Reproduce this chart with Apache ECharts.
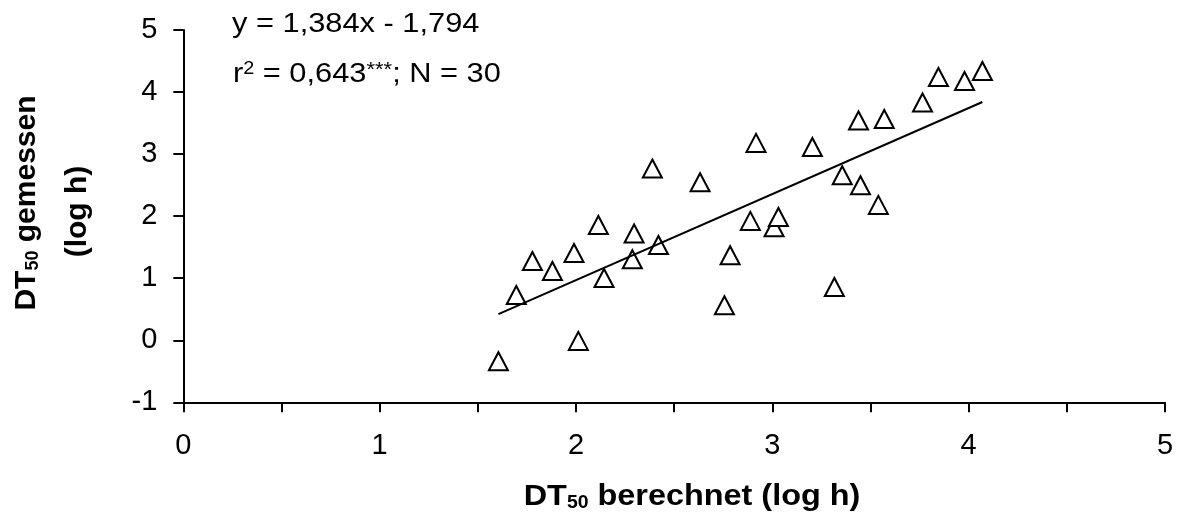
<!DOCTYPE html>
<html>
<head>
<meta charset="utf-8">
<script src="https://cdn.jsdelivr.net/npm/echarts@6/dist/echarts.min.js"></script>
<style>
html,body{margin:0;padding:0;background:#fff;}
#chart{width:1177px;height:513px;}
</style>
</head>
<body>
<div id="chart"></div>
<script>
// DT50 berechnet (log h) — x values
const xBerechnet = [1.605,1.696,1.778,1.880,1.990,2.012,2.114,2.143,2.287,2.296,2.389,2.420,2.632,2.756,2.785,2.888,2.917,3.009,3.031,3.204,3.316,3.356,3.439,3.449,3.540,3.570,3.765,3.846,3.979,4.070];
// DT50 gemessen (log h) — y values
const yGemessen = [-0.338,0.730,1.278,1.117,1.407,-0.011,1.858,1.004,1.305,1.720,2.767,1.536,2.546,0.564,1.370,1.923,3.180,1.821,1.987,3.115,0.859,2.659,3.541,2.498,2.181,3.566,3.831,4.243,4.179,4.340];
// regression line endpoints
const trendX = [1.605, 4.070];
const trendY = [0.42, 3.84];
// axis ticks
const xTicks = [0,1,2,3,4,5];
const yTicks = [-1,0,1,2,3,4,5];
// texts
const eqLine1 = 'y = 1,384x - 1,794';
const xTitleMain = ['DT','50',' berechnet (log h)'];
const yTitle1 = ['DT','50',' gemessen'];
const yTitle2 = '(log h)';

const FONT = '"Liberation Sans", Arial, sans-serif';

const scatterData = xBerechnet.map((x,i)=>[x, yGemessen[i]]);
const trendData = trendX.map((x,i)=>[x, trendY[i]]);

const chart = echarts.init(document.getElementById('chart'), null, {renderer:'canvas'});
const axisLineStyle = {color:'#000', width:2};
chart.setOption({
  animation:false,
  backgroundColor:'#fff',
  grid:{left:183.3, right:12, top:30, bottom:110.7, containLabel:false, outerBoundsMode:'none'},
  xAxis:{
    type:'value', min:xTicks[0], max:xTicks[xTicks.length-1], interval:1,
    axisLine:{show:true, onZero:false, lineStyle:axisLineStyle},
    axisTick:{show:true, length:10, inside:false, lineStyle:axisLineStyle},
    minorTick:{show:true, splitNumber:2, length:10, lineStyle:axisLineStyle},
    splitLine:{show:false},
    axisLabel:{fontFamily:FONT, fontSize:29, color:'#000', margin:29}
  },
  yAxis:{
    type:'value', min:yTicks[0], max:yTicks[yTicks.length-1], interval:1,
    axisLine:{show:true, onZero:false, lineStyle:axisLineStyle},
    axisTick:{show:true, length:10, inside:false, lineStyle:axisLineStyle},
    splitLine:{show:false},
    axisLabel:{fontFamily:FONT, fontSize:29, color:'#000', margin:26}
  },
  series:[
    {
      type:'scatter', data:scatterData, symbol:'triangle', symbolSize:[19,18],
      itemStyle:{color:'#fff', borderColor:'#000', borderWidth:2, opacity:1},
      emphasis:{disabled:true}, silent:true
    },
    {
      type:'line', data:trendData, showSymbol:false, symbol:'none',
      lineStyle:{color:'#000', width:2}, silent:true
    }
  ],
  graphic:[
    {type:'text', x:232, y:24.5, scaleX:1.1, silent:true,
     style:{text:eqLine1, fontFamily:FONT, fontSize:28, fill:'#000', align:'left', verticalAlign:'middle'}},
    {type:'text', x:233, y:74, scaleX:1.1, silent:true,
     style:{
       text:'{m|r}{s|2}{m| = 0,643}{a|***}{m|; N = 30}',
       fill:'#000', align:'left', verticalAlign:'middle',
       rich:{
         m:{fontFamily:FONT, fontSize:28, lineHeight:28, verticalAlign:'middle', fill:'#000'},
         s:{fontFamily:FONT, fontSize:18, lineHeight:12, verticalAlign:'top', fill:'#000'},
         a:{fontFamily:FONT, fontSize:20, lineHeight:22, verticalAlign:'top', fill:'#000'}
       }
     }},
    {type:'text', x:692, y:497, scaleX:1.08, silent:true,
     style:{
       text:'{m|'+xTitleMain[0]+'}{s|'+xTitleMain[1]+'}{m|'+xTitleMain[2]+'}',
       fill:'#000', align:'center', verticalAlign:'middle',
       rich:{
         m:{fontFamily:FONT, fontSize:30, fontWeight:'bold', lineHeight:30, verticalAlign:'middle', fill:'#000'},
         s:{fontFamily:FONT, fontSize:18, fontWeight:'bold', lineHeight:18, verticalAlign:'bottom', fill:'#000'}
       }
     }},
    {type:'text', x:27, y:203, rotation:Math.PI/2, silent:true,
     style:{
       text:'{m|'+yTitle1[0]+'}{s|'+yTitle1[1]+'}{m|'+yTitle1[2]+'}',
       fill:'#000', align:'center', verticalAlign:'middle',
       rich:{
         m:{fontFamily:FONT, fontSize:30, fontWeight:'bold', lineHeight:30, verticalAlign:'middle', fill:'#000'},
         s:{fontFamily:FONT, fontSize:18, fontWeight:'bold', lineHeight:18, verticalAlign:'bottom', fill:'#000'}
       }
     }},
    {type:'text', x:77.5, y:211.5, rotation:Math.PI/2, silent:true,
     style:{text:yTitle2, fontFamily:FONT, fontSize:30, fontWeight:'bold', fill:'#000', align:'center', verticalAlign:'middle'}}
  ]
});
</script>
</body>
</html>
